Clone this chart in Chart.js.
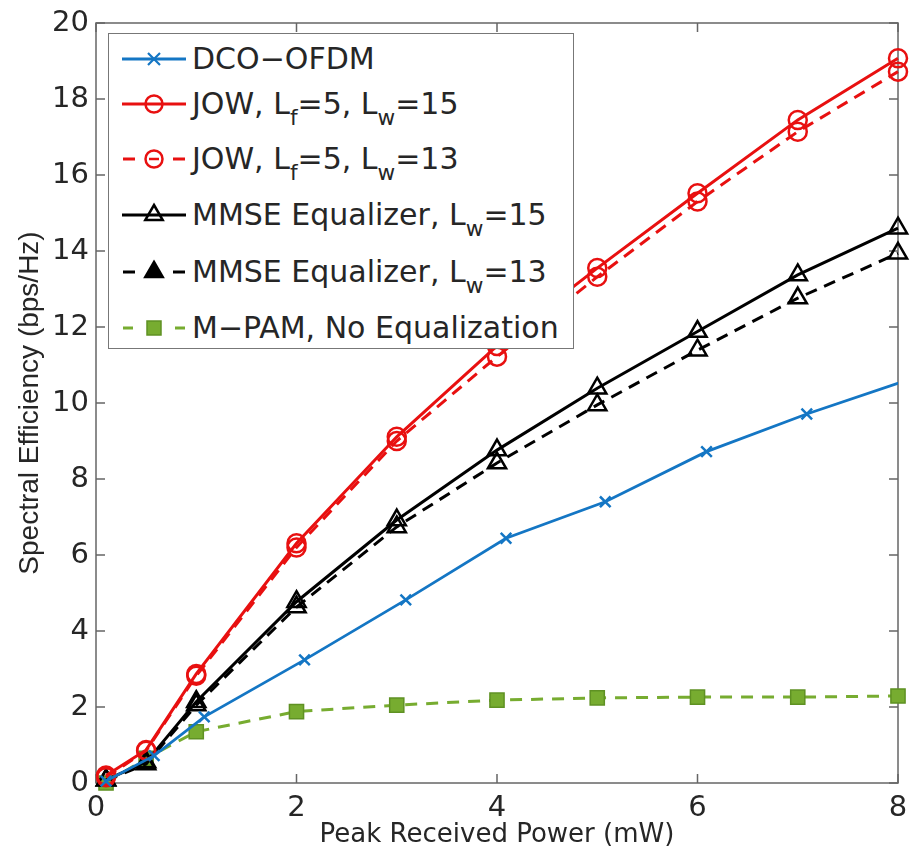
<!DOCTYPE html>
<html>
<head>
<meta charset="utf-8">
<script src="https://cdn.jsdelivr.net/npm/chart.js@4.4.1/dist/chart.umd.min.js"></script>
<style>
  html, body { margin: 0; padding: 0; background: #fff; }
  #wrap { position: relative; width: 911px; height: 855px; }
  #legend {
    position: absolute; left: 108px; top: 33px; width: 466px; height: 316px;
    border: 1.5px solid #777; background: #fff; box-sizing: border-box;
    font-family: "DejaVu Sans"; font-size: 30px; color: #262626;
  }
  .row { position: absolute; left: 0; width: 100%; height: 30px; }
  .row svg { position: absolute; left: 13px; top: 0; }
  .row span { position: absolute; left: 83px; top: 0; line-height: 30px; white-space: nowrap; }
  sub { font-size: 0.72em; line-height: 0; vertical-align: -0.5em; }
</style>
</head>
<body>
<div id="wrap">
  <canvas id="chart" width="911" height="855"></canvas>
  <div id="legend"></div>
</div>
<script>
// ---- data ----
const power = [0.1, 0.5, 1, 2, 3, 4, 5, 6, 7, 8];
const powerDco = [0.1, 0.58, 1.08, 2.08, 3.09, 4.09, 5.08, 6.09, 7.09, 8.09];

const dcoOfdm = [0.05, 0.72, 1.74, 3.24, 4.82, 6.44, 7.4, 8.72, 9.71, 10.6];
const jow15   = [0.2, 0.87, 2.87, 6.31, 9.11, 11.5, 13.55, 15.52, 17.45, 19.07];
const jow13   = [0.15, 0.85, 2.82, 6.2, 9.0, 11.22, 13.32, 15.3, 17.14, 18.72];
const mmse15  = [0.08, 0.55, 2.14, 4.77, 6.92, 8.76, 10.39, 11.88, 13.37, 14.6];
const mmse13  = [0.07, 0.5, 2.05, 4.63, 6.74, 8.42, 9.95, 11.39, 12.76, 13.94];
const mpam    = [0.0, 0.65, 1.35, 1.88, 2.05, 2.18, 2.24, 2.26, 2.26, 2.29];

const xTicks = [0, 2, 4, 6, 8];
const yTicks = [0, 2, 4, 6, 8, 10, 12, 14, 16, 18, 20];

const seriesNames = [
  'DCO\u2212OFDM',
  'JOW, L<sub>f</sub>=5, L<sub>w</sub>=15',
  'JOW, L<sub>f</sub>=5, L<sub>w</sub>=13',
  'MMSE Equalizer, L<sub>w</sub>=15',
  'MMSE Equalizer, L<sub>w</sub>=13',
  'M\u2212PAM, No Equalization'
];

const BLUE = 'rgb(20,118,196)';
const RED = 'rgb(232,16,16)';
const BLACK = '#000';
const GREEN = 'rgb(119,172,48)';

const pts = (xs, ys) => ys.map((v, i) => ({ x: xs[i], y: v }));

// ---- frame + inward ticks (matlab style) ----
const frame = {
  id: 'frame',
  beforeDatasetsDraw(chart) {
    const { ctx, chartArea: a, scales: { x, y } } = chart;
    const t = 9;
    ctx.save();
    ctx.strokeStyle = '#666';
    ctx.lineWidth = 1.5;
    ctx.strokeRect(a.left, a.top, a.right - a.left, a.bottom - a.top);
    ctx.beginPath();
    xTicks.forEach(v => {
      const p = x.getPixelForValue(v);
      ctx.moveTo(p, a.bottom); ctx.lineTo(p, a.bottom - t);
      ctx.moveTo(p, a.top); ctx.lineTo(p, a.top + t);
    });
    yTicks.forEach(v => {
      const p = y.getPixelForValue(v);
      ctx.moveTo(a.left, p); ctx.lineTo(a.left + t, p);
      ctx.moveTo(a.right, p); ctx.lineTo(a.right - t, p);
    });
    ctx.stroke();
    ctx.restore();
  }
};

const lineSet = (label, data, color, extra) => Object.assign({
  label, data,
  showLine: true,
  borderColor: color,
  borderWidth: 3,
  pointBorderColor: color,
  pointBackgroundColor: 'rgba(0,0,0,0)',
  pointBorderWidth: 2.5,
  tension: 0,
  clip: false
}, extra);

new Chart(document.getElementById('chart'), {
  type: 'scatter',
  data: {
    datasets: [
      lineSet('DCO-OFDM', pts(powerDco, dcoOfdm), BLUE, {
        borderWidth: 2.8, pointStyle: 'crossRot', pointRadius: 7.5,
        clip: { left: false, top: false, right: 0, bottom: false }
      }),
      lineSet('JOW 15', pts(power, jow15), RED, { pointStyle: 'circle', pointRadius: 9 }),
      lineSet('JOW 13', pts(power, jow13), RED, { pointStyle: 'circle', pointRadius: 9, borderDash: [12, 8] }),
      lineSet('MMSE 15', pts(power, mmse15), BLACK, { pointStyle: 'triangle', pointRadius: 10.5 }),
      lineSet('MMSE 13', pts(power, mmse13), BLACK, { pointStyle: 'triangle', pointRadius: 10.5, borderDash: [12, 8] }),
      lineSet('M-PAM', pts(power, mpam), GREEN, {
        pointStyle: 'rect', pointRadius: 10, borderDash: [12, 9],
        pointBackgroundColor: GREEN, pointBorderColor: 'rgb(95,145,35)', pointBorderWidth: 1.5
      })
    ]
  },
  options: {
    responsive: false,
    animation: false,
    events: [],
    layout: { padding: { top: 23, right: 11, left: 0, bottom: 0 } },
    plugins: { legend: { display: false }, tooltip: { enabled: false } },
    scales: {
      x: {
        type: 'linear', min: 0, max: 8,
        afterBuildTicks: s => { s.ticks = xTicks.map(v => ({ value: v })); },
        afterFit: s => { s.height = 72; s.paddingLeft = 0; s.paddingRight = 0; },
        grid: { display: false, drawTicks: false },
        border: { display: false },
        ticks: { padding: 8, color: '#262626', font: { family: 'DejaVu Sans', size: 29 } },
        title: {
          display: true, text: 'Peak Received Power (mW)', color: '#262626',
          font: { family: 'DejaVu Sans', size: 26 }, padding: { top: 0, bottom: 4 }
        }
      },
      y: {
        type: 'linear', min: 0, max: 20,
        afterBuildTicks: s => { s.ticks = yTicks.map(v => ({ value: v })); },
        afterFit: s => { s.width = 96; s.paddingTop = 0; s.paddingBottom = 0; },
        grid: { display: false, drawTicks: false },
        border: { display: false },
        ticks: { padding: 7, color: '#262626', font: { family: 'DejaVu Sans', size: 29 } },
        title: {
          display: true, text: 'Spectral Efficiency (bps/Hz)', color: '#262626',
          font: { family: 'Liberation Sans', size: 28 }, padding: { top: 13, bottom: 0 }
        }
      }
    }
  },
  plugins: [frame]
});

// ---- legend (html so the subscripts stay real text) ----
const rowCenters = [25, 70, 125, 181, 238, 294];
const swatches = [
  '<line x1="0" y1="15" x2="64" y2="15" stroke="' + BLUE + '" stroke-width="2.8"/>' +
  '<path d="M26 9 L38 21 M38 9 L26 21" stroke="' + BLUE + '" stroke-width="2.2"/>',
  '<line x1="0" y1="15" x2="64" y2="15" stroke="' + RED + '" stroke-width="3"/>' +
  '<circle cx="32" cy="15" r="8.5" fill="none" stroke="' + RED + '" stroke-width="2.5"/>',
  '<path d="M1 15 H13 M51 15 H63" stroke="' + RED + '" stroke-width="3"/>' +
  '<circle cx="32" cy="15" r="8.5" fill="none" stroke="' + RED + '" stroke-width="2.5"/>' +
  '<line x1="27" y1="15" x2="37" y2="15" stroke="' + RED + '" stroke-width="2.5"/>',
  '<line x1="0" y1="15" x2="64" y2="15" stroke="#000" stroke-width="3"/>' +
  '<path d="M32 5 L40.7 20 L23.3 20 Z" fill="none" stroke="#000" stroke-width="2.5"/>',
  '<path d="M1 15 H13 M51 15 H63" stroke="#000" stroke-width="3"/>' +
  '<path d="M32 5 L40.7 20 L23.3 20 Z" fill="#000" stroke="#000" stroke-width="2.5"/>',
  '<path d="M1 15 H11 M53 15 H63" stroke="' + GREEN + '" stroke-width="3"/>' +
  '<rect x="25" y="8" width="14" height="14" fill="' + GREEN + '" stroke="rgb(95,145,35)" stroke-width="1.5"/>'
];

const legend = document.getElementById('legend');
seriesNames.forEach((name, i) => {
  const row = document.createElement('div');
  row.className = 'row';
  row.style.top = (rowCenters[i] - 15) + 'px';
  row.innerHTML = '<svg width="64" height="30" viewBox="0 0 64 30">' + swatches[i] + '</svg>' +
                  '<span>' + name + '</span>';
  legend.appendChild(row);
});
</script>
</body>
</html>
